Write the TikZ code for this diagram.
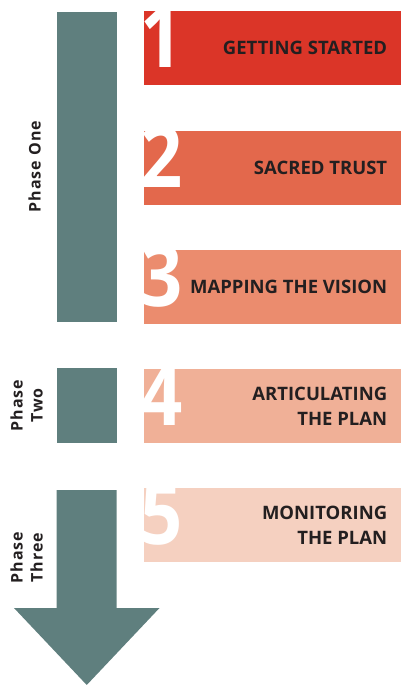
\documentclass[tikz,border=0pt]{standalone}
\usepackage{fontspec}
\setmainfont{Open Sans}
\usetikzlibrary{positioning}

\definecolor{phaseteal}{HTML}{5F7F7E}
\definecolor{stageA}{HTML}{DB3528}
\definecolor{stageB}{HTML}{E3684C}
\definecolor{stageC}{HTML}{EB8C6E}
\definecolor{stageD}{HTML}{F0B097}
\definecolor{stageE}{HTML}{F5D0C0}
\definecolor{textdark}{HTML}{231F20}

\begin{document}
\begin{tikzpicture}[x=1pt,y=-1pt]
    \tikzstyle{stagebox}=[rectangle,minimum width=257pt,minimum height=74pt,inner sep=0pt,anchor=north west]
    \tikzstyle{stagenum}=[font=\fontsize{86}{86}\selectfont\bfseries,text=white,inner sep=0pt,anchor=base west]
    \tikzstyle{stagetext}=[font=\fontsize{18.5}{25}\selectfont\bfseries,text=textdark,align=right,anchor=east,inner sep=0pt]
    \tikzstyle{phasebar}=[fill=phaseteal,draw=none]
    \tikzstyle{phaselabel}=[font=\fontsize{16}{20}\selectfont\bfseries\addfontfeatures{LetterSpace=6},text=textdark,rotate=90,align=center,inner sep=0pt]

    \useasboundingbox (0,0) rectangle (401,685);

    % stages
    \foreach \n/\y/\col/\txt in {1/11/stageA/{GETTING STARTED},
                                 2/131/stageB/{SACRED TRUST},
                                 3/250/stageC/{MAPPING THE VISION},
                                 4/369/stageD/{ARTICULATING\\THE PLAN},
                                 5/488/stageE/{MONITORING\\THE PLAN}} {
        \node[stagebox,fill=\col] (box\n) at (144,\y) {};
        \begin{scope}
            \clip (box\n.north west) rectangle (box\n.south east);
            \node[stagenum] (num\n) at ([xshift=-4pt,yshift=18pt]box\n.south west) {\scalebox{0.86}[1]{\n}};
        \end{scope}
        \node[stagetext] (txt\n) at ([xshift=-14pt]box\n.east) {\txt};
    }

    % phases
    \node[phasebar,minimum width=60pt,minimum height=310pt,inner sep=0pt,anchor=north west] (phase1) at (56.5,11.5) {};
    \node[phasebar,minimum width=60pt,minimum height=75pt,inner sep=0pt,anchor=north west] (phase2) at (56.5,368) {};
    \fill[phaseteal] (56.5,490) -- (116.5,490) -- (116.5,608) -- (159.5,608)
        -- (86.75,685) -- (14,608) -- (56.5,608) -- cycle;

    \node[phaselabel] (lab1) at (34.5,166.5) {Phase One};
    \node[phaselabel] (lab2) at (26.5,405.5) {Phase\\Two};
    \node[phaselabel] (lab3) at (26.5,557.5) {Phase\\Three};
\end{tikzpicture}
\end{document}
